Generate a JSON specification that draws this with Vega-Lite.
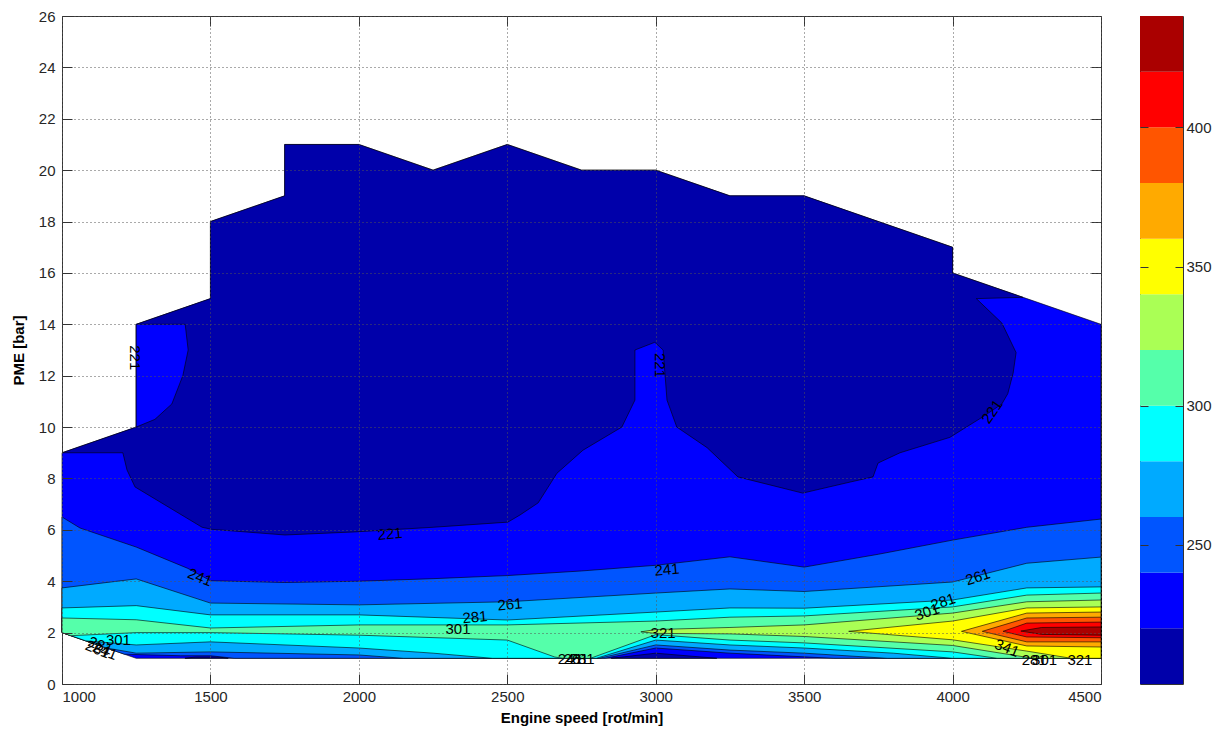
{
"$schema": "https://vega.github.io/schema/vega-lite/v6.json",
"background": "white",
"padding": {"left": 10, "top": 8, "right": 5, "bottom": 5},
"spacing": 39,
"bounds": "flush",
"config": {
  "view": {"stroke": "#333333", "strokeWidth": 1},
  "axis": {"labelFont": "Liberation Sans", "labelFontSize": 15, "labelColor": "#262626", "titleFont": "Liberation Sans", "titleFontSize": 15, "titleFontWeight": "bold", "titleColor": "#000000", "tickColor": "#333333", "domain": false}
},
"datasets": {
  "poly": [
    {"p":1,"v":230,"i":0,"x":1000,"y":2},{"p":1,"v":230,"i":1,"x":1000,"y":9},{"p":1,"v":230,"i":2,"x":1250,"y":10},{"p":1,"v":230,"i":3,"x":1250,"y":14},{"p":1,"v":230,"i":4,"x":1500,"y":15},{"p":1,"v":230,"i":5,"x":1500,"y":18},{"p":1,"v":230,"i":6,"x":1750,"y":19},{"p":1,"v":230,"i":7,"x":1750,"y":21},{"p":1,"v":230,"i":8,"x":2000,"y":21},{"p":1,"v":230,"i":9,"x":2250,"y":20},{"p":1,"v":230,"i":10,"x":2500,"y":21},{"p":1,"v":230,"i":11,"x":2750,"y":20},{"p":1,"v":230,"i":12,"x":3000,"y":20},{"p":1,"v":230,"i":13,"x":3250,"y":19},{"p":1,"v":230,"i":14,"x":3500,"y":19},{"p":1,"v":230,"i":15,"x":4000,"y":17},{"p":1,"v":230,"i":16,"x":4000,"y":16},{"p":1,"v":230,"i":17,"x":4250,"y":15},{"p":1,"v":230,"i":18,"x":4500,"y":14},{"p":1,"v":230,"i":19,"x":4500,"y":1},{"p":1,"v":230,"i":20,"x":1250,"y":1},
    {"p":2,"v":210,"i":0,"x":1000,"y":9},{"p":2,"v":210,"i":1,"x":1250,"y":10},{"p":2,"v":210,"i":2,"x":1250,"y":14},{"p":2,"v":210,"i":3,"x":1500,"y":15},{"p":2,"v":210,"i":4,"x":1500,"y":18},{"p":2,"v":210,"i":5,"x":1750,"y":19},{"p":2,"v":210,"i":6,"x":1750,"y":21},{"p":2,"v":210,"i":7,"x":2000,"y":21},{"p":2,"v":210,"i":8,"x":2250,"y":20},{"p":2,"v":210,"i":9,"x":2500,"y":21},{"p":2,"v":210,"i":10,"x":2750,"y":20},{"p":2,"v":210,"i":11,"x":3000,"y":20},{"p":2,"v":210,"i":12,"x":3250,"y":19},{"p":2,"v":210,"i":13,"x":3500,"y":19},{"p":2,"v":210,"i":14,"x":4000,"y":17},{"p":2,"v":210,"i":15,"x":4000,"y":16},{"p":2,"v":210,"i":16,"x":4237,"y":15.05},{"p":2,"v":210,"i":17,"x":4080,"y":15},{"p":2,"v":210,"i":18,"x":4166,"y":14.05},{"p":2,"v":210,"i":19,"x":4214,"y":12.9},{"p":2,"v":210,"i":20,"x":4204,"y":12.1},{"p":2,"v":210,"i":21,"x":4186,"y":11.3},{"p":2,"v":210,"i":22,"x":4166,"y":10.9},{"p":2,"v":210,"i":23,"x":4102,"y":10.4},{"p":2,"v":210,"i":24,"x":3991,"y":9.6},{"p":2,"v":210,"i":25,"x":3823,"y":9.0},{"p":2,"v":210,"i":26,"x":3749,"y":8.6},{"p":2,"v":210,"i":27,"x":3732,"y":8.06},{"p":2,"v":210,"i":28,"x":3655,"y":7.86},{"p":2,"v":210,"i":29,"x":3495,"y":7.43},{"p":2,"v":210,"i":30,"x":3277,"y":8.06},{"p":2,"v":210,"i":31,"x":3173,"y":9.2},{"p":2,"v":210,"i":32,"x":3071,"y":10.0},{"p":2,"v":210,"i":33,"x":3038,"y":11.05},{"p":2,"v":210,"i":34,"x":3025,"y":13.0},{"p":2,"v":210,"i":35,"x":2997,"y":13.3},{"p":2,"v":210,"i":36,"x":2930,"y":13.0},{"p":2,"v":210,"i":37,"x":2930,"y":11.05},{"p":2,"v":210,"i":38,"x":2886,"y":10.0},{"p":2,"v":210,"i":39,"x":2755,"y":9.1},{"p":2,"v":210,"i":40,"x":2667,"y":8.2},{"p":2,"v":210,"i":41,"x":2604,"y":7.05},{"p":2,"v":210,"i":42,"x":2543,"y":6.58},{"p":2,"v":210,"i":43,"x":2502,"y":6.3},{"p":2,"v":210,"i":44,"x":2250,"y":6.1},{"p":2,"v":210,"i":45,"x":1987,"y":5.92},{"p":2,"v":210,"i":46,"x":1751,"y":5.8},{"p":2,"v":210,"i":47,"x":1505,"y":6.02},{"p":2,"v":210,"i":48,"x":1472,"y":6.1},{"p":2,"v":210,"i":49,"x":1246,"y":7.67},{"p":2,"v":210,"i":50,"x":1219,"y":8.33},{"p":2,"v":210,"i":51,"x":1205,"y":9.0},
    {"p":3,"v":230,"i":0,"x":1250,"y":14},{"p":3,"v":230,"i":1,"x":1415,"y":14},{"p":3,"v":230,"i":2,"x":1425,"y":13},{"p":3,"v":230,"i":3,"x":1407,"y":12},{"p":3,"v":230,"i":4,"x":1370,"y":10.9},{"p":3,"v":230,"i":5,"x":1313,"y":10.3},{"p":3,"v":230,"i":6,"x":1250,"y":10},
    {"p":4,"v":210,"i":0,"x":1414,"y":1},{"p":4,"v":210,"i":1,"x":1450,"y":1.05},{"p":4,"v":210,"i":2,"x":1530,"y":1.05},{"p":4,"v":210,"i":3,"x":1560,"y":1},
    {"p":5,"v":210,"i":0,"x":2850,"y":1},{"p":5,"v":210,"i":1,"x":3000,"y":1.2},{"p":5,"v":210,"i":2,"x":3206,"y":1},
    {"p":6,"v":250,"i":0,"x":1000,"y":6.5},{"p":6,"v":250,"i":1,"x":1061,"y":6.07},{"p":6,"v":250,"i":2,"x":1250,"y":5.33},{"p":6,"v":250,"i":3,"x":1424,"y":4.5},{"p":6,"v":250,"i":4,"x":1500,"y":4.02},{"p":6,"v":250,"i":5,"x":1750,"y":3.95},{"p":6,"v":250,"i":6,"x":2000,"y":4.0},{"p":6,"v":250,"i":7,"x":2250,"y":4.1},{"p":6,"v":250,"i":8,"x":2500,"y":4.22},{"p":6,"v":250,"i":9,"x":2750,"y":4.4},{"p":6,"v":250,"i":10,"x":3000,"y":4.62},{"p":6,"v":250,"i":11,"x":3250,"y":4.95},{"p":6,"v":250,"i":12,"x":3500,"y":4.55},{"p":6,"v":250,"i":13,"x":3750,"y":5.05},{"p":6,"v":250,"i":14,"x":4000,"y":5.6},{"p":6,"v":250,"i":15,"x":4250,"y":6.1},{"p":6,"v":250,"i":16,"x":4500,"y":6.42},{"p":6,"v":250,"i":17,"x":4500,"y":1},{"p":6,"v":250,"i":18,"x":3600,"y":1},{"p":6,"v":250,"i":19,"x":3250,"y":1.2},{"p":6,"v":250,"i":20,"x":3000,"y":1.4},{"p":6,"v":250,"i":21,"x":2830,"y":1},{"p":6,"v":250,"i":22,"x":1580,"y":1},{"p":6,"v":250,"i":23,"x":1500,"y":1.1},{"p":6,"v":250,"i":24,"x":1400,"y":1.1},{"p":6,"v":250,"i":25,"x":1210,"y":1.16},{"p":6,"v":250,"i":26,"x":1000,"y":2},
    {"p":7,"v":270,"i":0,"x":1000,"y":3.74},{"p":7,"v":270,"i":1,"x":1250,"y":4.09},{"p":7,"v":270,"i":2,"x":1500,"y":3.15},{"p":7,"v":270,"i":3,"x":2000,"y":3.08},{"p":7,"v":270,"i":4,"x":2500,"y":3.2},{"p":7,"v":270,"i":5,"x":3000,"y":3.54},{"p":7,"v":270,"i":6,"x":3250,"y":3.7},{"p":7,"v":270,"i":7,"x":3500,"y":3.6},{"p":7,"v":270,"i":8,"x":4000,"y":3.97},{"p":7,"v":270,"i":9,"x":4250,"y":4.7},{"p":7,"v":270,"i":10,"x":4500,"y":4.94},{"p":7,"v":270,"i":11,"x":4500,"y":1},{"p":7,"v":270,"i":12,"x":3780,"y":1},{"p":7,"v":270,"i":13,"x":3500,"y":1.2},{"p":7,"v":270,"i":14,"x":3250,"y":1.32},{"p":7,"v":270,"i":15,"x":3000,"y":1.52},{"p":7,"v":270,"i":16,"x":2810,"y":1},{"p":7,"v":270,"i":17,"x":2150,"y":1},{"p":7,"v":270,"i":18,"x":2000,"y":1.13},{"p":7,"v":270,"i":19,"x":1500,"y":1.25},{"p":7,"v":270,"i":20,"x":1250,"y":1.2},{"p":7,"v":270,"i":21,"x":1150,"y":1.4},{"p":7,"v":270,"i":22,"x":1000,"y":2},
    {"p":8,"v":290,"i":0,"x":1000,"y":2.96},{"p":8,"v":290,"i":1,"x":1250,"y":3.05},{"p":8,"v":290,"i":2,"x":1500,"y":2.69},{"p":8,"v":290,"i":3,"x":2000,"y":2.69},{"p":8,"v":290,"i":4,"x":2500,"y":2.49},{"p":8,"v":290,"i":5,"x":3000,"y":2.8},{"p":8,"v":290,"i":6,"x":3250,"y":2.96},{"p":8,"v":290,"i":7,"x":3500,"y":2.95},{"p":8,"v":290,"i":8,"x":4000,"y":3.27},{"p":8,"v":290,"i":9,"x":4250,"y":3.74},{"p":8,"v":290,"i":10,"x":4500,"y":3.78},{"p":8,"v":290,"i":11,"x":4500,"y":1},{"p":8,"v":290,"i":12,"x":4000,"y":1},{"p":8,"v":290,"i":13,"x":3800,"y":1.2},{"p":8,"v":290,"i":14,"x":3500,"y":1.4},{"p":8,"v":290,"i":15,"x":3250,"y":1.52},{"p":8,"v":290,"i":16,"x":3000,"y":1.71},{"p":8,"v":290,"i":17,"x":2800,"y":1},{"p":8,"v":290,"i":18,"x":2450,"y":1},{"p":8,"v":290,"i":19,"x":2250,"y":1.2},{"p":8,"v":290,"i":20,"x":2000,"y":1.4},{"p":8,"v":290,"i":21,"x":1500,"y":1.64},{"p":8,"v":290,"i":22,"x":1250,"y":1.52},{"p":8,"v":290,"i":23,"x":1080,"y":1.68},{"p":8,"v":290,"i":24,"x":1000,"y":2},
    {"p":9,"v":310,"i":0,"x":1000,"y":2.57},{"p":9,"v":310,"i":1,"x":1250,"y":2.5},{"p":9,"v":310,"i":2,"x":1500,"y":2.18},{"p":9,"v":310,"i":3,"x":2000,"y":2.3},{"p":9,"v":310,"i":4,"x":2500,"y":2.3},{"p":9,"v":310,"i":5,"x":3000,"y":2.45},{"p":9,"v":310,"i":6,"x":3250,"y":2.6},{"p":9,"v":310,"i":7,"x":3500,"y":2.65},{"p":9,"v":310,"i":8,"x":4000,"y":3.0},{"p":9,"v":310,"i":9,"x":4250,"y":3.46},{"p":9,"v":310,"i":10,"x":4500,"y":3.54},{"p":9,"v":310,"i":11,"x":4500,"y":1},{"p":9,"v":310,"i":12,"x":4150,"y":1},{"p":9,"v":310,"i":13,"x":4000,"y":1.25},{"p":9,"v":310,"i":14,"x":3500,"y":1.6},{"p":9,"v":310,"i":15,"x":3250,"y":1.71},{"p":9,"v":310,"i":16,"x":3000,"y":1.92},{"p":9,"v":310,"i":17,"x":2780,"y":1},{"p":9,"v":310,"i":18,"x":2690,"y":1},{"p":9,"v":310,"i":19,"x":2660,"y":1.05},{"p":9,"v":310,"i":20,"x":2500,"y":1.71},{"p":9,"v":310,"i":21,"x":2000,"y":1.9},{"p":9,"v":310,"i":22,"x":1500,"y":2.0},{"p":9,"v":310,"i":23,"x":1250,"y":2.0},{"p":9,"v":310,"i":24,"x":1030,"y":1.88},{"p":9,"v":310,"i":25,"x":1000,"y":2},
    {"p":10,"v":330,"i":0,"x":2950,"y":2.03},{"p":10,"v":330,"i":1,"x":3000,"y":2.12},{"p":10,"v":330,"i":2,"x":3250,"y":2.2},{"p":10,"v":330,"i":3,"x":3500,"y":2.3},{"p":10,"v":330,"i":4,"x":4000,"y":2.76},{"p":10,"v":330,"i":5,"x":4250,"y":3.2},{"p":10,"v":330,"i":6,"x":4500,"y":3.27},{"p":10,"v":330,"i":7,"x":4500,"y":1},{"p":10,"v":330,"i":8,"x":4270,"y":1},{"p":10,"v":330,"i":9,"x":4000,"y":1.5},{"p":10,"v":330,"i":10,"x":3500,"y":1.85},{"p":10,"v":330,"i":11,"x":3250,"y":1.95},{"p":10,"v":330,"i":12,"x":3000,"y":1.97},
    {"p":11,"v":350,"i":0,"x":3650,"y":2.05},{"p":11,"v":350,"i":1,"x":4000,"y":2.45},{"p":11,"v":350,"i":2,"x":4250,"y":2.96},{"p":11,"v":350,"i":3,"x":4500,"y":3.0},{"p":11,"v":350,"i":4,"x":4500,"y":1},{"p":11,"v":350,"i":5,"x":4400,"y":1},{"p":11,"v":350,"i":6,"x":4250,"y":1.28},{"p":11,"v":350,"i":7,"x":4000,"y":1.72},
    {"p":12,"v":370,"i":0,"x":4030,"y":2.05},{"p":12,"v":370,"i":1,"x":4250,"y":2.76},{"p":12,"v":370,"i":2,"x":4500,"y":2.8},{"p":12,"v":370,"i":3,"x":4500,"y":1.44},{"p":12,"v":370,"i":4,"x":4250,"y":1.48},
    {"p":13,"v":390,"i":0,"x":4100,"y":2.05},{"p":13,"v":390,"i":1,"x":4250,"y":2.57},{"p":13,"v":390,"i":2,"x":4500,"y":2.6},{"p":13,"v":390,"i":3,"x":4500,"y":1.64},{"p":13,"v":390,"i":4,"x":4250,"y":1.64},
    {"p":14,"v":410,"i":0,"x":4170,"y":2.05},{"p":14,"v":410,"i":1,"x":4250,"y":2.37},{"p":14,"v":410,"i":2,"x":4500,"y":2.41},{"p":14,"v":410,"i":3,"x":4500,"y":1.8},{"p":14,"v":410,"i":4,"x":4250,"y":1.83},
    {"p":15,"v":430,"i":0,"x":4230,"y":2.06},{"p":15,"v":430,"i":1,"x":4300,"y":2.2},{"p":15,"v":430,"i":2,"x":4500,"y":2.22},{"p":15,"v":430,"i":3,"x":4500,"y":1.9},{"p":15,"v":430,"i":4,"x":4300,"y":1.93}
  ],
  "lab90": [{"t":"221","x":1246,"y":12.7},{"t":"221","x":3014,"y":12.4}],
  "labm55": [{"t":"221","x":4133,"y":10.6}],
  "labm5": [{"t":"221","x":2105,"y":5.84},{"t":"241","x":3038,"y":4.45},{"t":"261","x":2509,"y":3.1},{"t":"281","x":2391,"y":2.6}],
  "labm18": [{"t":"261","x":4085,"y":4.17},{"t":"281","x":3968,"y":3.2},{"t":"301","x":3914,"y":2.8}],
  "lab0": [{"t":"301","x":2334,"y":2.15},{"t":"321","x":3025,"y":1.98},{"t":"321","x":4429,"y":0.92},{"t":"241","x":2712,"y":0.98},{"t":"261","x":2732,"y":0.98},{"t":"281","x":2752,"y":0.98},{"t":"281","x":4275,"y":0.92},{"t":"301","x":4310,"y":0.92},{"t":"301","x":1190,"y":1.72}],
  "lab25": [{"t":"241","x":1465,"y":4.15},{"t":"341","x":4183,"y":1.4},{"t":"281","x":1130,"y":1.5},{"t":"261","x":1120,"y":1.35},{"t":"241","x":1145,"y":1.28}],
  "cbar": [
    {"lo":200,"hi":220,"v":210},{"lo":220,"hi":240,"v":230},{"lo":240,"hi":260,"v":250},{"lo":260,"hi":280,"v":270},{"lo":280,"hi":300,"v":290},{"lo":300,"hi":320,"v":310},{"lo":320,"hi":340,"v":330},{"lo":340,"hi":360,"v":350},{"lo":360,"hi":380,"v":370},{"lo":380,"hi":400,"v":390},{"lo":400,"hi":420,"v":410},{"lo":420,"hi":440,"v":430}
  ]
},
"hconcat": [
  {
    "width": 1039,
    "height": 668,
    "resolve": {"axis": {"x": "independent", "y": "independent"}},
    "layer": [
      {
        "data": {"name": "poly"},
        "mark": {"type": "line", "interpolate": "linear-closed", "stroke": "#000000", "strokeWidth": 0.6, "strokeJoin": "round"},
        "encoding": {
          "x": {"field": "x", "type": "quantitative", "scale": {"domain": [1000, 4500], "nice": false, "zero": false},
                "axis": {"orient": "bottom", "values": [1000,1500,2000,2500,3000,3500,4000,4500], "format": "d", "grid": true, "gridColor": "#555555", "gridDash": [1, 3], "gridWidth": 1, "tickSize": -10, "labelPadding": 15, "title": "Engine speed [rot/min]", "titlePadding": 6, "zindex": 1}},
          "y": {"field": "y", "type": "quantitative", "scale": {"domain": [0, 26], "nice": false, "zero": false},
                "axis": {"orient": "left", "values": [0,2,4,6,8,10,12,14,16,18,20,22,24,26], "grid": true, "gridColor": "#555555", "gridDash": [1, 3], "gridWidth": 1, "tickSize": -10, "labelPadding": 17, "title": "PME [bar]", "titlePadding": 12, "zindex": 1}},
          "fill": {"field": "v", "type": "quantitative", "legend": null,
                   "scale": {"type": "threshold", "domain": [220,240,260,280,300,320,340,360,380,400,420], "range": ["#0000AA","#0000FF","#0055FF","#00AAFF","#00FFFF","#55FFAA","#AAFF55","#FFFF00","#FFAA00","#FF5500","#FF0000","#AA0000"]}},
          "detail": {"field": "p", "type": "nominal"},
          "order": {"field": "i", "type": "quantitative"}
        }
      },
      {
        "data": {"name": "lab0"},
        "mark": {"type": "text", "font": "Liberation Sans", "fontSize": 15, "color": "#000000", "angle": 0},
        "encoding": {
          "x": {"field": "x", "type": "quantitative", "scale": {"domain": [1000, 4500], "nice": false, "zero": false},
                "axis": {"orient": "top", "values": [1000,1500,2000,2500,3000,3500,4000,4500], "labels": false, "grid": false, "tickSize": -10, "title": null}},
          "y": {"field": "y", "type": "quantitative", "scale": {"domain": [0, 26], "nice": false, "zero": false},
                "axis": {"orient": "right", "values": [0,2,4,6,8,10,12,14,16,18,20,22,24,26], "labels": false, "grid": false, "tickSize": -10, "title": null}},
          "text": {"field": "t"}
        }
      },
      {
        "data": {"name": "lab90"},
        "mark": {"type": "text", "font": "Liberation Sans", "fontSize": 15, "color": "#000000", "angle": 90},
        "encoding": {
          "x": {"field": "x", "type": "quantitative", "scale": {"domain": [1000, 4500], "nice": false, "zero": false}, "axis": null},
          "y": {"field": "y", "type": "quantitative", "scale": {"domain": [0, 26], "nice": false, "zero": false}, "axis": null},
          "text": {"field": "t"}
        }
      },
      {
        "data": {"name": "labm55"},
        "mark": {"type": "text", "font": "Liberation Sans", "fontSize": 15, "color": "#000000", "angle": 305},
        "encoding": {
          "x": {"field": "x", "type": "quantitative", "scale": {"domain": [1000, 4500], "nice": false, "zero": false}, "axis": null},
          "y": {"field": "y", "type": "quantitative", "scale": {"domain": [0, 26], "nice": false, "zero": false}, "axis": null},
          "text": {"field": "t"}
        }
      },
      {
        "data": {"name": "labm5"},
        "mark": {"type": "text", "font": "Liberation Sans", "fontSize": 15, "color": "#000000", "angle": 355},
        "encoding": {
          "x": {"field": "x", "type": "quantitative", "scale": {"domain": [1000, 4500], "nice": false, "zero": false}, "axis": null},
          "y": {"field": "y", "type": "quantitative", "scale": {"domain": [0, 26], "nice": false, "zero": false}, "axis": null},
          "text": {"field": "t"}
        }
      },
      {
        "data": {"name": "labm18"},
        "mark": {"type": "text", "font": "Liberation Sans", "fontSize": 15, "color": "#000000", "angle": 342},
        "encoding": {
          "x": {"field": "x", "type": "quantitative", "scale": {"domain": [1000, 4500], "nice": false, "zero": false}, "axis": null},
          "y": {"field": "y", "type": "quantitative", "scale": {"domain": [0, 26], "nice": false, "zero": false}, "axis": null},
          "text": {"field": "t"}
        }
      },
      {
        "data": {"name": "lab25"},
        "mark": {"type": "text", "font": "Liberation Sans", "fontSize": 15, "color": "#000000", "angle": 22},
        "encoding": {
          "x": {"field": "x", "type": "quantitative", "scale": {"domain": [1000, 4500], "nice": false, "zero": false}, "axis": null},
          "y": {"field": "y", "type": "quantitative", "scale": {"domain": [0, 26], "nice": false, "zero": false}, "axis": null},
          "text": {"field": "t"}
        }
      }
    ]
  },
  {
    "width": 43,
    "height": 668,
    "resolve": {"axis": {"y": "independent"}},
    "layer": [
      {
        "data": {"name": "cbar"},
        "mark": {"type": "rect"},
        "encoding": {
          "x": {"datum": 0, "type": "quantitative", "scale": {"domain": [0, 1], "nice": false, "zero": false}, "axis": null},
          "x2": {"datum": 1},
          "y": {"field": "lo", "type": "quantitative", "scale": {"domain": [200, 440], "nice": false, "zero": false},
                "axis": {"orient": "right", "values": [250, 300, 350, 400], "tickSize": -8, "labelPadding": 11, "title": null, "grid": false, "zindex": 1}},
          "y2": {"field": "hi"},
          "fill": {"field": "v", "type": "quantitative", "legend": null,
                   "scale": {"type": "threshold", "domain": [220,240,260,280,300,320,340,360,380,400,420], "range": ["#0000AA","#0000FF","#0055FF","#00AAFF","#00FFFF","#55FFAA","#AAFF55","#FFFF00","#FFAA00","#FF5500","#FF0000","#AA0000"]}}
        }
      },
      {
        "data": {"name": "cbar"},
        "mark": {"type": "rect", "opacity": 0},
        "encoding": {
          "x": {"datum": 0, "type": "quantitative", "scale": {"domain": [0, 1], "nice": false, "zero": false}, "axis": null},
          "x2": {"datum": 1},
          "y": {"field": "lo", "type": "quantitative", "scale": {"domain": [200, 440], "nice": false, "zero": false},
                "axis": {"orient": "left", "values": [250, 300, 350, 400], "tickSize": -8, "labels": false, "title": null, "grid": false, "zindex": 1}},
          "y2": {"field": "hi"}
        }
      }
    ]
  }
]
}
